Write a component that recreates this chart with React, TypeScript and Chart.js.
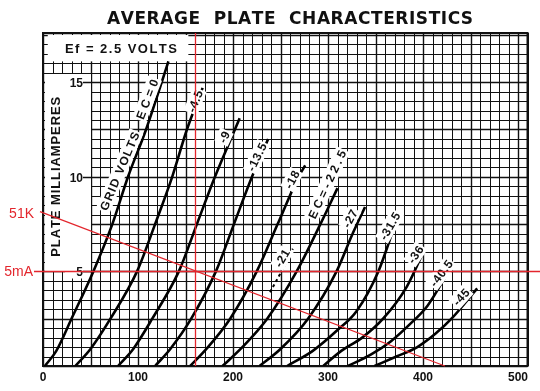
import React, { useEffect, useRef } from "react";
import { Chart, registerables } from "chart.js";

Chart.register(...registerables);

// ---------------- data ----------------
const PLATE_VOLT_TICKS = [0, 100, 200, 300, 400, 500];
const PLATE_MA_TICKS = [5, 10, 15];
const X_MAX = 510;
const Y_MAX = 17.6;

type Pt = [number, number]; // [plate volts, plate milliamperes]

const EC_0: Pt[] = [[2, 0], [14, 0.8], [30, 2.5], [53, 5], [73, 7.5], [89.5, 10], [108.5, 12.5], [125, 15], [132, 16.1]];
const EC_4_5: Pt[] = [[34, 0], [50, 0.9], [71, 2.5], [99, 5], [118, 7.5], [136, 10], [151.5, 12.5], [168, 14.7]];
const EC_9: Pt[] = [[79, 0], [95, 0.9], [115, 2.5], [143, 5], [162, 7.5], [181, 10], [202, 12.5], [207, 13.1]];
const EC_13_5: Pt[] = [[118, 0], [134, 0.9], [156, 2.5], [182, 5], [201, 7.5], [220, 10], [237, 12]];
const EC_18: Pt[] = [[155, 0], [172, 0.9], [197, 2.5], [225, 5], [247, 7.5], [269, 10], [276, 10.6]];
const EC_21: Pt[] = [[239, 3.9], [251, 5.0], [263, 6.2]];
const EC_22_5: Pt[] = [[189, 0], [208, 0.9], [236, 2.5], [267, 5], [292, 7.5], [310, 9.4]];
const EC_27: Pt[] = [[228, 0], [250, 0.9], [279, 2.5], [309, 5], [326, 7], [339, 8.4]];
const EC_31_5: Pt[] = [[257, 0], [284, 0.8], [310, 1.9], [330, 2.9], [353, 5], [370, 7.4]];
const EC_36: Pt[] = [[295, 0], [314, 0.8], [336, 1.5], [358, 2.5], [383, 4.2], [402, 6.2]];
const EC_40_5: Pt[] = [[321, 0], [345, 0.6], [366, 1.3], [386, 2.2], [405, 3.2], [428, 5.1]];
const EC_45: Pt[] = [[349, 0], [372, 0.5], [394, 1.0], [413, 1.7], [430, 2.5], [457, 4.1]];

const LOAD_LINE: Pt[] = [[0, 8.1], [423, 0]];
const OP_VOLTS = 160;
const OP_MA = 5;

const CURVES: { name: string; pts: Pt[]; dashed?: boolean }[] = [
  { name: "0", pts: EC_0 },
  { name: "-4.5", pts: EC_4_5 },
  { name: "-9", pts: EC_9 },
  { name: "-13.5", pts: EC_13_5 },
  { name: "-18", pts: EC_18 },
  { name: "-21", pts: EC_21, dashed: true },
  { name: "-22.5", pts: EC_22_5 },
  { name: "-27", pts: EC_27 },
  { name: "-31.5", pts: EC_31_5 },
  { name: "-36", pts: EC_36 },
  { name: "-40.5", pts: EC_40_5 },
  { name: "-45", pts: EC_45 },
];

// curve labels: anchor in data units, rotation in degrees, fitted length in px (null = natural)
const CURVE_LABELS: { text: string; v: number; i: number; angle: number; len: number | null }[] = [
  { text: "GRID VOLTS", v: 80.5, i: 10.3, angle: 67, len: 84 },
  { text: "EC=0", v: 109.5, i: 14.1, angle: 69, len: 42 },
  { text: "-4.5", v: 160, i: 14.0, angle: 68, len: null },
  { text: "-9", v: 190.5, i: 12.1, angle: 65, len: null },
  { text: "-13.5", v: 225, i: 11.05, angle: 64, len: null },
  { text: "-18", v: 262, i: 9.85, angle: 62, len: null },
  { text: "-21", v: 251.5, i: 5.7, angle: 60, len: null },
  { text: "EC=-22.5", v: 299, i: 9.6, angle: 65, len: 74 },
  { text: "-27", v: 323, i: 7.8, angle: 62, len: null },
  { text: "-31.5", v: 365, i: 7.4, angle: 60, len: null },
  { text: "-36", v: 392, i: 5.9, angle: 56, len: null },
  { text: "-40.5", v: 419, i: 4.9, angle: 53, len: null },
  { text: "-45", v: 440, i: 3.65, angle: 48, len: null },
];

// ---------------- drawing helpers ----------------
const SANS = '"Liberation Sans", Arial, sans-serif';
const RED = "#e3262d";
const INK = "#111";

function drawSpaced(
  ctx: CanvasRenderingContext2D,
  text: string,
  cx: number,
  cy: number,
  angleDeg: number,
  font: string,
  size: number,
  fitLen: number | null,
  color: string,
  halo: number,
  baseSpacing = 0
) {
  ctx.save();
  ctx.translate(cx, cy);
  ctx.rotate((-angleDeg * Math.PI) / 180);
  ctx.font = font;
  ctx.textBaseline = "middle";
  ctx.textAlign = "left";
  const chars = Array.from(text);
  const widths = chars.map((c) => ctx.measureText(c).width);
  const sum = widths.reduce((a, b) => a + b, 0);
  const spacing =
    fitLen != null && chars.length > 1 ? (fitLen - sum) / (chars.length - 1) : baseSpacing;
  const total = sum + spacing * (chars.length - 1);
  if (halo > 0) {
    ctx.fillStyle = "#fff";
    ctx.fillRect(-total / 2 - halo, -size * 0.55 - halo / 2, total + 2 * halo, size * 1.1 + halo);
  }
  ctx.fillStyle = color;
  let x = -total / 2;
  chars.forEach((c, k) => {
    ctx.fillText(c, x, 1);
    x += widths[k] + spacing;
  });
  ctx.restore();
}

const paperPlugin = {
  id: "paper",
  beforeDatasetsDraw(chart: any) {
    const { ctx, chartArea: a, scales } = chart;
    const x = scales.x;
    const y = scales.y;
    const px = (v: number) => x.getPixelForValue(v);
    const py = (i: number) => y.getPixelForValue(i);
    ctx.save();
    ctx.fillStyle = "#fff";
    ctx.fillRect(a.left, a.top, a.right - a.left, a.bottom - a.top);

    // graph-paper grid: 10 V by 0.5 mA
    ctx.strokeStyle = INK;
    for (let v = 0; v <= X_MAX; v += 10) {
      const X = Math.round(px(v)) + 0.5;
      ctx.lineWidth = v % 50 === 0 ? 1.4 : 1;
      ctx.beginPath();
      ctx.moveTo(X, a.top);
      ctx.lineTo(X, a.bottom);
      ctx.stroke();
    }
    for (let k = 0; k * 0.5 <= Y_MAX; k++) {
      const Y = Math.round(py(k * 0.5)) + 0.5;
      ctx.lineWidth = k % 5 === 0 ? 1.4 : 1;
      ctx.beginPath();
      ctx.moveTo(a.left, Y);
      ctx.lineTo(a.right, Y);
      ctx.stroke();
    }
    ctx.lineWidth = 2;
    ctx.strokeRect(a.left, a.top, a.right - a.left, a.bottom - a.top);

    // white strip for the vertical axis
    const sx0 = Math.round(px(0)) + 2;
    const sx1 = Math.round(px(50));
    ctx.fillStyle = "#fff";
    ctx.fillRect(sx0, Math.round(py(15.5)) + 1, sx1 - sx0, Math.round(py(5)) - Math.round(py(15.5)) - 1);

    // y tick labels with short ticks
    ctx.font = `bold 12px ${SANS}`;
    ctx.textAlign = "right";
    ctx.textBaseline = "middle";
    PLATE_MA_TICKS.forEach((t) => {
      const Y = Math.round(py(t)) + 0.5;
      ctx.fillStyle = "#fff";
      ctx.fillRect(sx1 - 26, Y - 7, 18, 14);
      ctx.fillStyle = INK;
      ctx.fillText(String(t), sx1 - 8, Y + 1);
      ctx.strokeStyle = INK;
      ctx.lineWidth = 1.5;
      ctx.beginPath();
      ctx.moveTo(sx1 - 8, Y);
      ctx.lineTo(sx1, Y);
      ctx.stroke();
    });

    // axis title
    drawSpaced(ctx, "PLATE MILLIAMPERES", px(0) + 12, py(10), 90, `bold 13px ${SANS}`, 13, 160, INK, 0);

    // filament box
    ctx.fillStyle = "#fff";
    const bx0 = px(5), bx1 = px(153), by0 = a.top + 2, by1 = py(16.1);
    ctx.fillRect(bx0, by0, bx1 - bx0, by1 - by0);
    drawSpaced(ctx, "Ef = 2.5 VOLTS", px(82), py(16.78), 0, `bold 13px ${SANS}`, 13, 112, INK, 0);
    ctx.restore();
  },
  afterDatasetsDraw(chart: any) {
    const { ctx, chartArea: a, scales } = chart;
    const x = scales.x;
    const y = scales.y;
    const px = (v: number) => x.getPixelForValue(v);
    const py = (i: number) => y.getPixelForValue(i);
    ctx.save();
    CURVE_LABELS.forEach((l) => {
      drawSpaced(ctx, l.text, px(l.v), py(l.i), l.angle, `bold 12px ${SANS}`, 12, l.len, INK, 1.5, 0.6);
    });

    // operating point and load line
    ctx.strokeStyle = RED;
    ctx.lineWidth = 1.3;
    const ox = Math.round(px(OP_VOLTS)) + 0.5;
    ctx.beginPath();
    ctx.moveTo(ox, a.top);
    ctx.lineTo(ox, a.bottom);
    ctx.stroke();
    const oy = Math.round(py(OP_MA)) + 0.5;
    ctx.beginPath();
    ctx.moveTo(34, oy);
    ctx.lineTo(chart.width, oy);
    ctx.stroke();
    const [[v0, i0], [v1, i1]] = LOAD_LINE;
    const slope = (py(i1) - py(i0)) / (px(v1) - px(v0));
    const startX = px(v0) - 3;
    ctx.beginPath();
    ctx.moveTo(startX, py(i0) - 3 * slope);
    ctx.lineTo(px(v1), py(i1));
    ctx.stroke();

    ctx.fillStyle = RED;
    ctx.font = `14px ${SANS}`;
    ctx.textAlign = "right";
    ctx.textBaseline = "middle";
    ctx.fillText("51K", 34, py(i0) + 1);
    ctx.fillText("5mA", 33, oy + 1);
    ctx.restore();
  },
  afterDraw(chart: any) {
    const { ctx } = chart;
    drawSpaced(ctx, "AVERAGE  PLATE  CHARACTERISTICS", 290, 19, 0, `bold 17px "DejaVu Sans", ${SANS}`, 17, 366, INK, 0);
  },
};

export default function App() {
  const ref = useRef<HTMLCanvasElement>(null);
  useEffect(() => {
    const canvas = ref.current!;
    const chart = new Chart(canvas, {
      type: "scatter",
      data: {
        datasets: CURVES.map((c) => ({
          label: `Ec = ${c.name}`,
          data: c.pts.map(([v, i]) => ({ x: v, y: i })),
          showLine: true,
          borderColor: "#000",
          borderWidth: c.dashed ? 2 : 2.6,
          borderDash: c.dashed ? [3, 3] : [],
          pointRadius: 0,
          cubicInterpolationMode: "monotone",
          fill: false,
        })),
      },
      options: {
        responsive: false,
        animation: false,
        devicePixelRatio: 1,
        layout: { padding: { left: 43, right: 12.5, top: 33, bottom: 0 } },
        plugins: { legend: { display: false }, tooltip: { enabled: false }, title: { display: false } },
        scales: {
          x: {
            type: "linear",
            min: 0,
            max: X_MAX,
            grid: { display: false, drawTicks: false },
            border: { display: false },
            afterFit: (s: any) => {
              s.height = 25;
            },
            afterBuildTicks: (s: any) => {
              s.ticks = PLATE_VOLT_TICKS.map((v) => ({ value: v }));
            },
            ticks: {
              autoSkip: false,
              maxRotation: 0,
              padding: 4,
              color: INK,
              font: { family: SANS, size: 12, weight: "bold" },
              callback: (v: any) => String(v),
            },
          },
          y: { type: "linear", min: 0, max: Y_MAX, display: false },
        },
      },
      plugins: [paperPlugin],
    } as any);
    return () => chart.destroy();
  }, []);
  return (
    <canvas
      ref={ref}
      width={540}
      height={391}
      style={{ position: "absolute", left: 0, top: 0, display: "block" }}
    />
  );
}
